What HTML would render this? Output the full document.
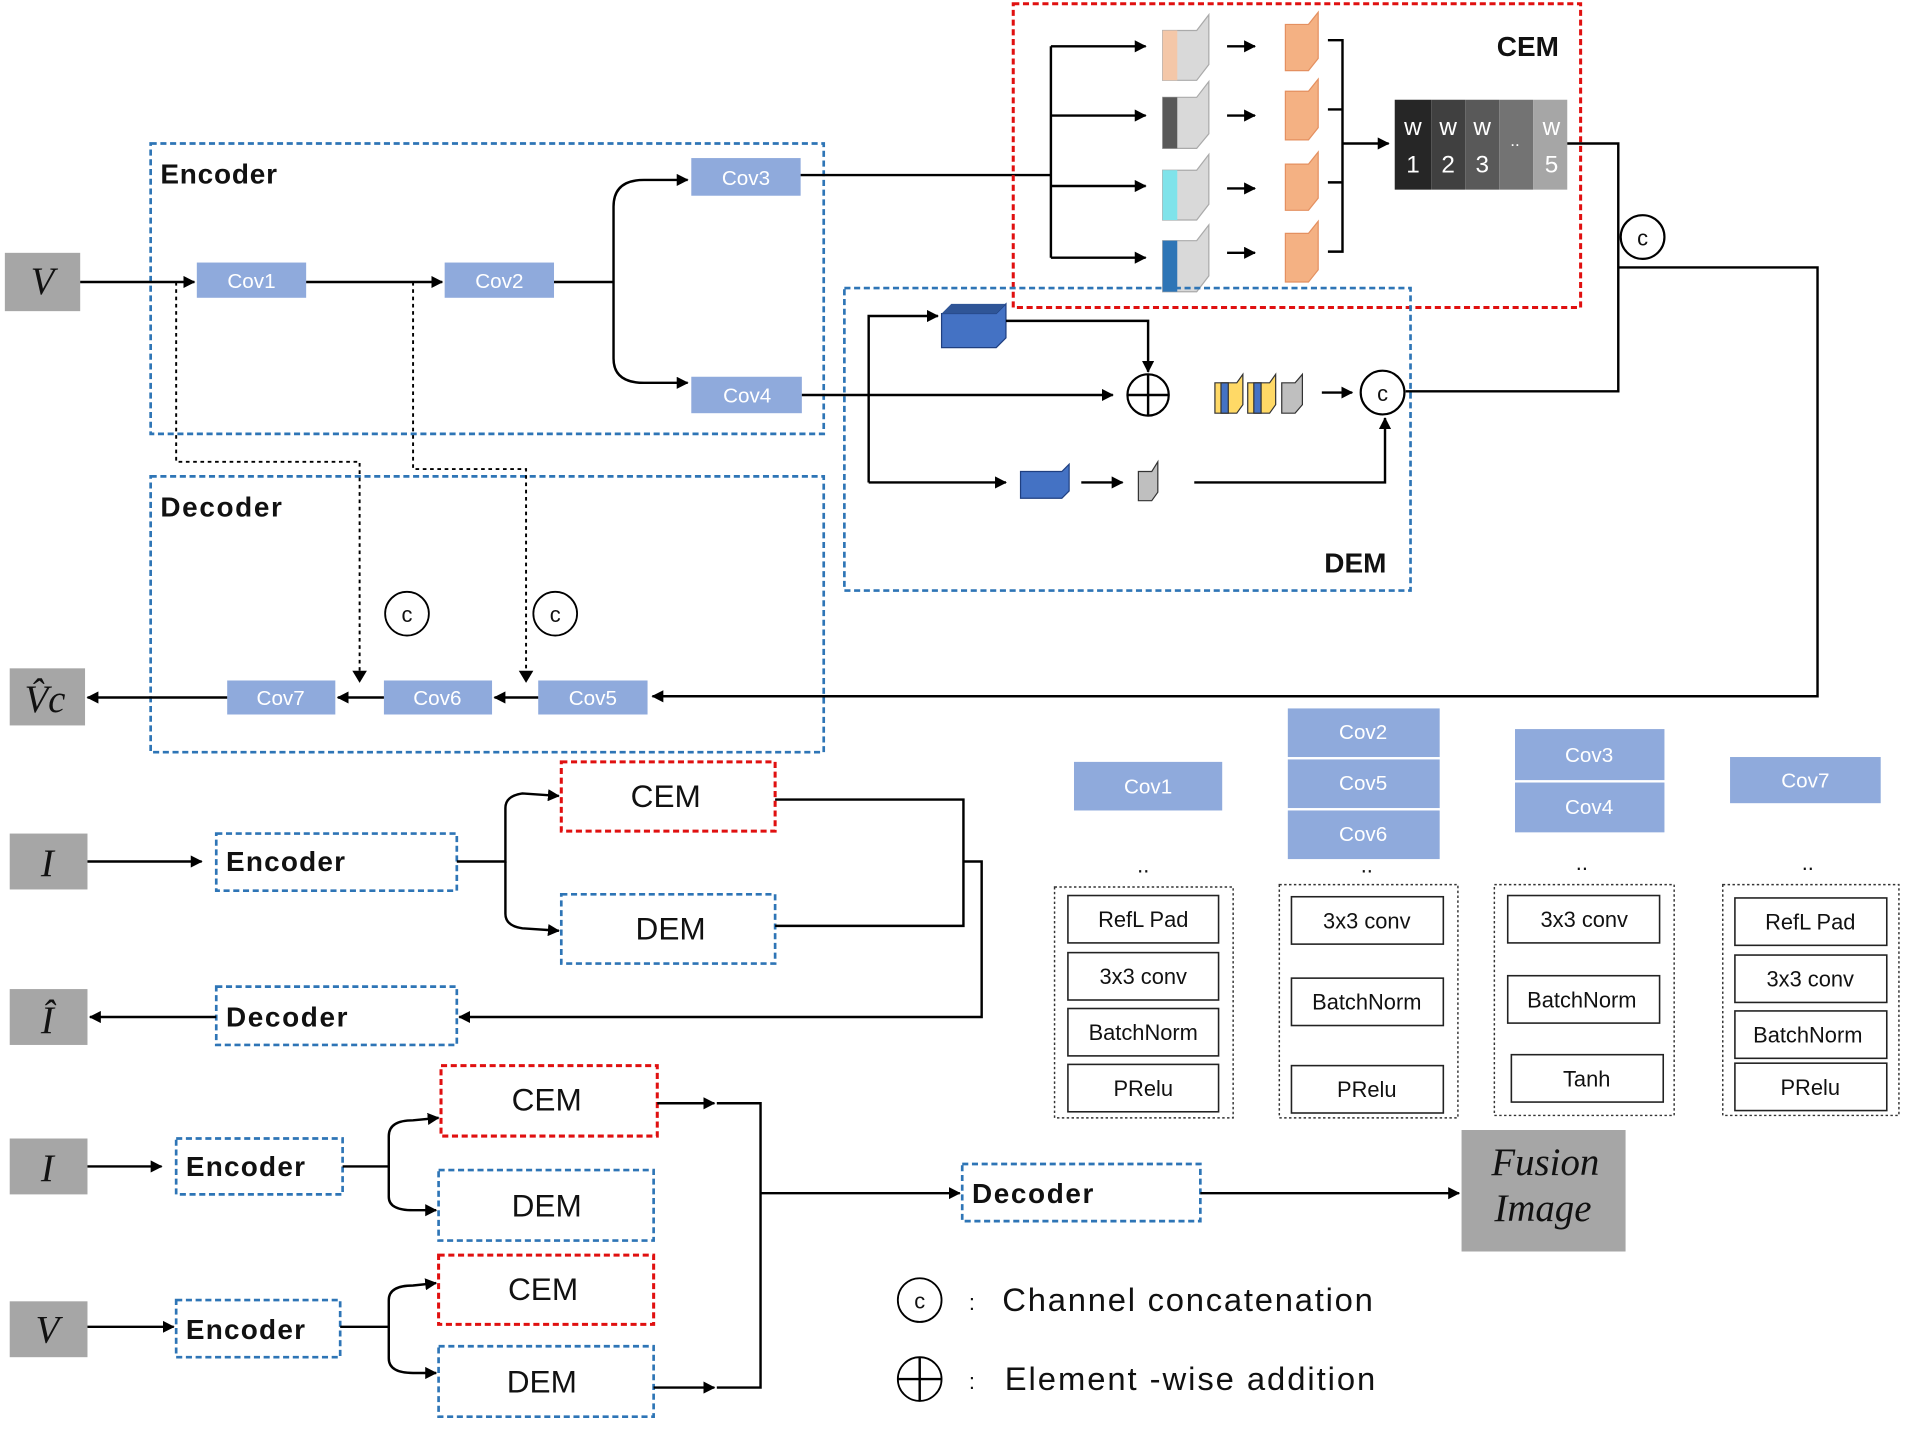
<!DOCTYPE html>
<html><head><meta charset="utf-8"><style>
html,body{margin:0;padding:0;background:#fff;}
svg{display:block;}
text{font-family:"Liberation Sans",sans-serif;}
.cv{fill:#8faadc;}
.cvt{fill:#fff;font-size:17px;text-anchor:middle;}
.bd{fill:none;stroke:#2e75b6;stroke-width:2.2;stroke-dasharray:5,3;}
.rd{fill:none;stroke:#e01010;stroke-width:2.5;stroke-dasharray:5,3;}
.ln{fill:none;stroke:#000;stroke-width:2;}
.dt{fill:none;stroke:#000;stroke-width:1.6;stroke-dasharray:3,3;}
.gb{fill:#a6a6a6;}
.lab{font-size:23px;font-weight:bold;fill:#111;}
.ital{font-family:"Liberation Serif",serif;font-style:italic;font-size:32px;fill:#111;text-anchor:middle;}
.big{font-size:26px;fill:#111;text-anchor:middle;}
.sm{font-size:18px;fill:#111;text-anchor:middle;}
.ib{fill:#fff;stroke:#222;stroke-width:1.3;}
.db{fill:none;stroke:#333;stroke-width:1.2;stroke-dasharray:2,2;}
</style></head><body>
<svg width="1905" height="1429" viewBox="0 0 1568 1176" xmlns="http://www.w3.org/2000/svg">
<defs><marker id="a" markerWidth="10" markerHeight="10" refX="9" refY="5" orient="auto" markerUnits="userSpaceOnUse"><path d="M0,0 L14,5 L0,10 z" fill="#000" transform="scale(0.7,1)"/></marker></defs>

<rect class="gb" x="4" y="208" width="62" height="48"/><text class="ital" x="35" y="242">V</text>
<rect class="bd" x="124" y="118" width="554" height="239"/><text class="lab" x="132" y="151" textLength="96">Encoder</text>
<rect class="cv" x="162" y="216" width="90" height="29"/><text class="cvt" x="207" y="237">Cov1</text>
<rect class="cv" x="366" y="216" width="90" height="29"/><text class="cvt" x="411" y="237">Cov2</text>
<rect class="cv" x="569" y="130" width="90" height="31"/><text class="cvt" x="614" y="152">Cov3</text>
<rect class="cv" x="569" y="310" width="91" height="30"/><text class="cvt" x="615" y="331">Cov4</text>
<path class="ln" d="M66,232 H160" marker-end="url(#a)"/>
<path class="ln" d="M252,232 H364" marker-end="url(#a)"/>
<path class="ln" d="M456,232 H505"/>
<path class="ln" d="M505,232 V170 Q505,148 530,148 H566" marker-end="url(#a)"/>
<path class="ln" d="M505,232 V295 Q505,315 530,315 H566" marker-end="url(#a)"/>
<path class="ln" d="M659,144 H865"/>

<rect class="rd" x="834" y="3" width="467" height="250"/><text class="lab" x="1232" y="46">CEM</text>
<path class="ln" d="M865,38 V212"/>
<path class="ln" d="M865,38 H943" marker-end="url(#a)"/>
<path class="ln" d="M865,95 H943" marker-end="url(#a)"/>
<path class="ln" d="M865,153 H943" marker-end="url(#a)"/>
<path class="ln" d="M865,212 H943" marker-end="url(#a)"/>
<polygon points="957,25 985,25 995,12 995,53 985,66 957,66" fill="#d9d9d9" stroke="#aaa"/><rect x="957" y="25" width="12" height="41" fill="#f4c7a8"/>
<polygon points="957,80 985,80 995,67 995,110 985,122 957,122" fill="#d9d9d9" stroke="#aaa"/><rect x="957" y="80" width="12" height="42" fill="#595959"/>
<polygon points="957,140 985,140 995,127 995,168 985,181 957,181" fill="#d9d9d9" stroke="#aaa"/><rect x="957" y="140" width="12" height="41" fill="#7fe3ea"/>
<polygon points="957,198 985,198 995,185 995,227 985,240 957,240" fill="#d9d9d9" stroke="#aaa"/><rect x="957" y="198" width="12" height="42" fill="#2e75b6"/>
<g fill="#f4b183" stroke="#e49060">
<polygon points="1058,20 1077,20 1085,10 1085,48 1077,58 1058,58"/>
<polygon points="1058,75 1077,75 1085,65 1085,105 1077,115 1058,115"/>
<polygon points="1058,135 1077,135 1085,125 1085,163 1077,173 1058,173"/>
<polygon points="1058,192 1077,192 1085,182 1085,222 1077,232 1058,232"/>
</g>
<path class="ln" d="M1010,38 H1033" marker-end="url(#a)"/>
<path class="ln" d="M1010,95 H1033" marker-end="url(#a)"/>
<path class="ln" d="M1010,155 H1033" marker-end="url(#a)"/>
<path class="ln" d="M1010,208 H1033" marker-end="url(#a)"/>
<path class="ln" d="M1093,33 H1105 V207 H1093 M1093,90 H1105 M1093,150 H1105"/>
<path class="ln" d="M1105,118 H1143" marker-end="url(#a)"/>
<rect x="1148" y="82" width="30" height="74" fill="#262626"/>
<rect x="1178" y="82" width="28" height="74" fill="#404040"/>
<rect x="1206" y="82" width="28" height="74" fill="#595959"/>
<rect x="1234" y="82" width="28" height="74" fill="#737373"/>
<rect x="1262" y="82" width="28" height="74" fill="#a6a6a6"/>
<g fill="#fff" font-size="20" text-anchor="middle">
<text x="1163" y="111">w</text><text x="1163" y="142">1</text>
<text x="1192" y="111">w</text><text x="1192" y="142">2</text>
<text x="1220" y="111">w</text><text x="1220" y="142">3</text>
<text x="1247" y="120" font-size="14">..</text>
<text x="1277" y="111">w</text><text x="1277" y="142">5</text>
</g>
<path class="ln" d="M1290,118 H1332 V322 H1157"/>
<circle cx="1352" cy="195" r="18" fill="#fff" stroke="#000" stroke-width="1.8"/><text x="1352" y="202" class="sm">c</text>
<path class="ln" d="M1332,220 H1496 V573 H537" marker-end="url(#a)"/>

<rect class="bd" x="695" y="237" width="466" height="249"/><text class="lab" x="1090" y="471">DEM</text>
<path class="ln" d="M715,397 V260 H772" marker-end="url(#a)"/>
<path class="ln" d="M715,397 H828" marker-end="url(#a)"/>
<polygon points="775,258 820,258 828,250 828,278 820,286 775,286" fill="#4472c4" stroke="#1f3f80"/><polygon points="775,258 783,250 828,250 820,258" fill="#2f5597"/>
<path class="ln" d="M828,264 H945 V306" marker-end="url(#a)"/>
<path class="ln" d="M660,325 H916" marker-end="url(#a)"/>
<circle cx="945" cy="325" r="17" fill="#fff" stroke="#000" stroke-width="1.8"/><path class="ln" d="M928,325 H962 M945,308 V342"/>
<g stroke="#333" stroke-width="1">
<polygon points="1000,315 1018,315 1023,308 1023,333 1018,340 1000,340" fill="#ffd966"/><rect x="1005" y="315" width="6" height="25" fill="#4472c4"/>
<polygon points="1027,315 1045,315 1050,308 1050,333 1045,340 1027,340" fill="#ffd966"/><rect x="1032" y="315" width="6" height="25" fill="#4472c4"/>
<polygon points="1055,315 1066,315 1072,308 1072,333 1066,340 1055,340" fill="#bfbfbf"/>
</g>
<path class="ln" d="M1088,323 H1113" marker-end="url(#a)"/>
<circle cx="1138" cy="323" r="18" fill="#fff" stroke="#000" stroke-width="1.8"/><text x="1138" y="330" class="sm">c</text>
<polygon points="840,388 874,388 880,382 880,404 874,410 840,410" fill="#4472c4" stroke="#1f3f80"/>
<path class="ln" d="M890,397 H924" marker-end="url(#a)"/>
<polygon points="937,388 948,388 953,380 953,405 948,412 937,412" fill="#bfbfbf" stroke="#333"/>
<path class="ln" d="M983,397 H1140 V344" marker-end="url(#a)"/>

<rect class="bd" x="124" y="392" width="554" height="227"/><text class="lab" x="132" y="425" textLength="100">Decoder</text>
<rect class="cv" x="187" y="560" width="89" height="28"/><text class="cvt" x="231" y="580">Cov7</text>
<rect class="cv" x="316" y="560" width="89" height="28"/><text class="cvt" x="360" y="580">Cov6</text>
<rect class="cv" x="443" y="560" width="90" height="28"/><text class="cvt" x="488" y="580">Cov5</text>
<path class="ln" d="M443,574 H407" marker-end="url(#a)"/>
<path class="ln" d="M316,574 H278" marker-end="url(#a)"/>
<path class="ln" d="M187,574 H72" marker-end="url(#a)"/>
<rect class="gb" x="8" y="550" width="62" height="47"/><text class="ital" x="37" y="586">V̂c</text>
<path class="dt" d="M145,232 V380 H296 V560"/><path d="M290,552 L296,562 L302,552 z"/>
<path class="dt" d="M340,232 V386 H433 V560"/><path d="M427,552 L433,562 L439,552 z"/>
<circle cx="335" cy="505" r="18" fill="#fff" stroke="#000" stroke-width="1.5"/><text x="335" y="512" class="sm">c</text>
<circle cx="457" cy="505" r="18" fill="#fff" stroke="#000" stroke-width="1.5"/><text x="457" y="512" class="sm">c</text>

<rect class="gb" x="8" y="686" width="64" height="46"/><text class="ital" x="39" y="721">I</text>
<path class="ln" d="M72,709 H166" marker-end="url(#a)"/>
<rect class="bd" x="178" y="686" width="198" height="47"/><text class="lab" x="186" y="717" textLength="98">Encoder</text>
<path class="ln" d="M376,709 H416 V665 Q416,655 430,653 L460,655" marker-end="url(#a)"/>
<path class="ln" d="M416,709 V752 Q416,762 430,764 L460,766" marker-end="url(#a)"/>
<rect class="rd" x="462" y="627" width="176" height="57"/><text class="big" x="548" y="664">CEM</text>
<rect class="bd" x="462" y="736" width="176" height="57"/><text class="big" x="552" y="773">DEM</text>
<path class="ln" d="M638,658 H793 V762 H638"/>
<path class="ln" d="M793,709 H808 V837 H378" marker-end="url(#a)"/>
<rect class="bd" x="178" y="812" width="198" height="48"/><text class="lab" x="186" y="845" textLength="100">Decoder</text>
<path class="ln" d="M178,837 H74" marker-end="url(#a)"/>
<rect class="gb" x="8" y="814" width="64" height="46"/><text class="ital" x="39" y="850">Î</text>

<rect class="gb" x="8" y="937" width="64" height="46"/><text class="ital" x="39" y="972">I</text>
<path class="ln" d="M72,960 H133" marker-end="url(#a)"/>
<rect class="bd" x="145" y="937" width="137" height="46"/><text class="lab" x="153" y="968" textLength="98">Encoder</text>
<path class="ln" d="M282,960 H320 V935 Q320,922 340,922 L361,920" marker-end="url(#a)"/>
<path class="ln" d="M320,960 V985 Q320,996 340,996 L359,996" marker-end="url(#a)"/>
<rect class="rd" x="363" y="877" width="178" height="58"/><text class="big" x="450" y="914">CEM</text>
<rect class="bd" x="361" y="963" width="177" height="58"/><text class="big" x="450" y="1001">DEM</text>
<rect class="gb" x="8" y="1071" width="64" height="46"/><text class="ital" x="39" y="1105">V</text>
<path class="ln" d="M72,1092 H143" marker-end="url(#a)"/>
<rect class="bd" x="145" y="1070" width="135" height="47"/><text class="lab" x="153" y="1102" textLength="98">Encoder</text>
<path class="ln" d="M280,1092 H320 V1070 Q320,1058 340,1058 L359,1056" marker-end="url(#a)"/>
<path class="ln" d="M320,1092 V1118 Q320,1130 340,1130 L359,1130" marker-end="url(#a)"/>
<rect class="rd" x="361" y="1033" width="177" height="57"/><text class="big" x="447" y="1070">CEM</text>
<rect class="bd" x="361" y="1108" width="177" height="58"/><text class="big" x="446" y="1146">DEM</text>
<path class="ln" d="M541,908 H588" marker-end="url(#a)"/>
<path class="ln" d="M538,1142 H588" marker-end="url(#a)"/>
<path class="ln" d="M590,908 H626 V1142 H590"/>
<path class="ln" d="M626,982 H790" marker-end="url(#a)"/>
<rect class="bd" x="792" y="958" width="196" height="47"/><text class="lab" x="800" y="990" textLength="100">Decoder</text>
<path class="ln" d="M988,982 H1201" marker-end="url(#a)"/>
<rect class="gb" x="1203" y="930" width="135" height="100"/>
<text class="ital" x="1272" y="967" font-size="31">Fusion</text><text class="ital" x="1270" y="1005" font-size="31">Image</text>

<circle cx="757" cy="1070" r="18" fill="#fff" stroke="#000" stroke-width="1.5"/><text x="757" y="1077" class="sm">c</text>
<text x="800" y="1078" class="sm">:</text>
<text x="825" y="1079" font-size="27" fill="#111" textLength="305">Channel concatenation</text>
<circle cx="757" cy="1135" r="18" fill="#fff" stroke="#000" stroke-width="1.5"/><path class="ln" d="M739,1135 H775 M757,1117 V1153" stroke-width="1.5"/>
<text x="800" y="1143" class="sm">:</text>
<text x="827" y="1144" font-size="27" fill="#111" textLength="305">Element -wise addition</text>

<rect class="cv" x="884" y="627" width="122" height="40"/><text class="cvt" x="945" y="653">Cov1</text>
<rect class="cv" x="1060" y="583" width="125" height="40"/><text class="cvt" x="1122" y="608">Cov2</text>
<rect class="cv" x="1060" y="625" width="125" height="40"/><text class="cvt" x="1122" y="650">Cov5</text>
<rect class="cv" x="1060" y="667" width="125" height="40"/><text class="cvt" x="1122" y="692">Cov6</text>
<rect class="cv" x="1247" y="600" width="123" height="42"/><text class="cvt" x="1308" y="627">Cov3</text>
<rect class="cv" x="1247" y="644" width="123" height="41"/><text class="cvt" x="1308" y="670">Cov4</text>
<rect class="cv" x="1424" y="623" width="124" height="38"/><text class="cvt" x="1486" y="648">Cov7</text>
<g class="sm"><text x="941" y="718">..</text><text x="1125" y="718">..</text><text x="1302" y="716">..</text><text x="1488" y="716">..</text></g>
<rect class="db" x="868" y="730" width="147" height="190"/>
<rect class="db" x="1053" y="728" width="147" height="192"/>
<rect class="db" x="1230" y="728" width="148" height="190"/>
<rect class="db" x="1418" y="728" width="145" height="190"/>
<rect class="ib" x="879" y="737" width="124" height="39"/><text class="sm" x="941" y="763">RefL Pad</text>
<rect class="ib" x="879" y="784" width="124" height="39"/><text class="sm" x="941" y="810">3x3 conv</text>
<rect class="ib" x="879" y="830" width="124" height="39"/><text class="sm" x="941" y="856">BatchNorm</text>
<rect class="ib" x="879" y="876" width="124" height="39"/><text class="sm" x="941" y="902">PRelu</text>
<rect class="ib" x="1063" y="738" width="125" height="39"/><text class="sm" x="1125" y="764">3x3 conv</text>
<rect class="ib" x="1063" y="805" width="125" height="39"/><text class="sm" x="1125" y="831">BatchNorm</text>
<rect class="ib" x="1063" y="877" width="125" height="39"/><text class="sm" x="1125" y="903">PRelu</text>
<rect class="ib" x="1241" y="737" width="125" height="39"/><text class="sm" x="1304" y="763">3x3 conv</text>
<rect class="ib" x="1241" y="803" width="125" height="39"/><text class="sm" x="1302" y="829">BatchNorm</text>
<rect class="ib" x="1244" y="868" width="125" height="39"/><text class="sm" x="1306" y="894">Tanh</text>
<rect class="ib" x="1428" y="739" width="125" height="39"/><text class="sm" x="1490" y="765">RefL Pad</text>
<rect class="ib" x="1428" y="786" width="125" height="39"/><text class="sm" x="1490" y="812">3x3 conv</text>
<rect class="ib" x="1428" y="832" width="125" height="39"/><text class="sm" x="1488" y="858">BatchNorm</text>
<rect class="ib" x="1428" y="875" width="125" height="39"/><text class="sm" x="1490" y="901">PRelu</text>
</svg>
</body></html>
